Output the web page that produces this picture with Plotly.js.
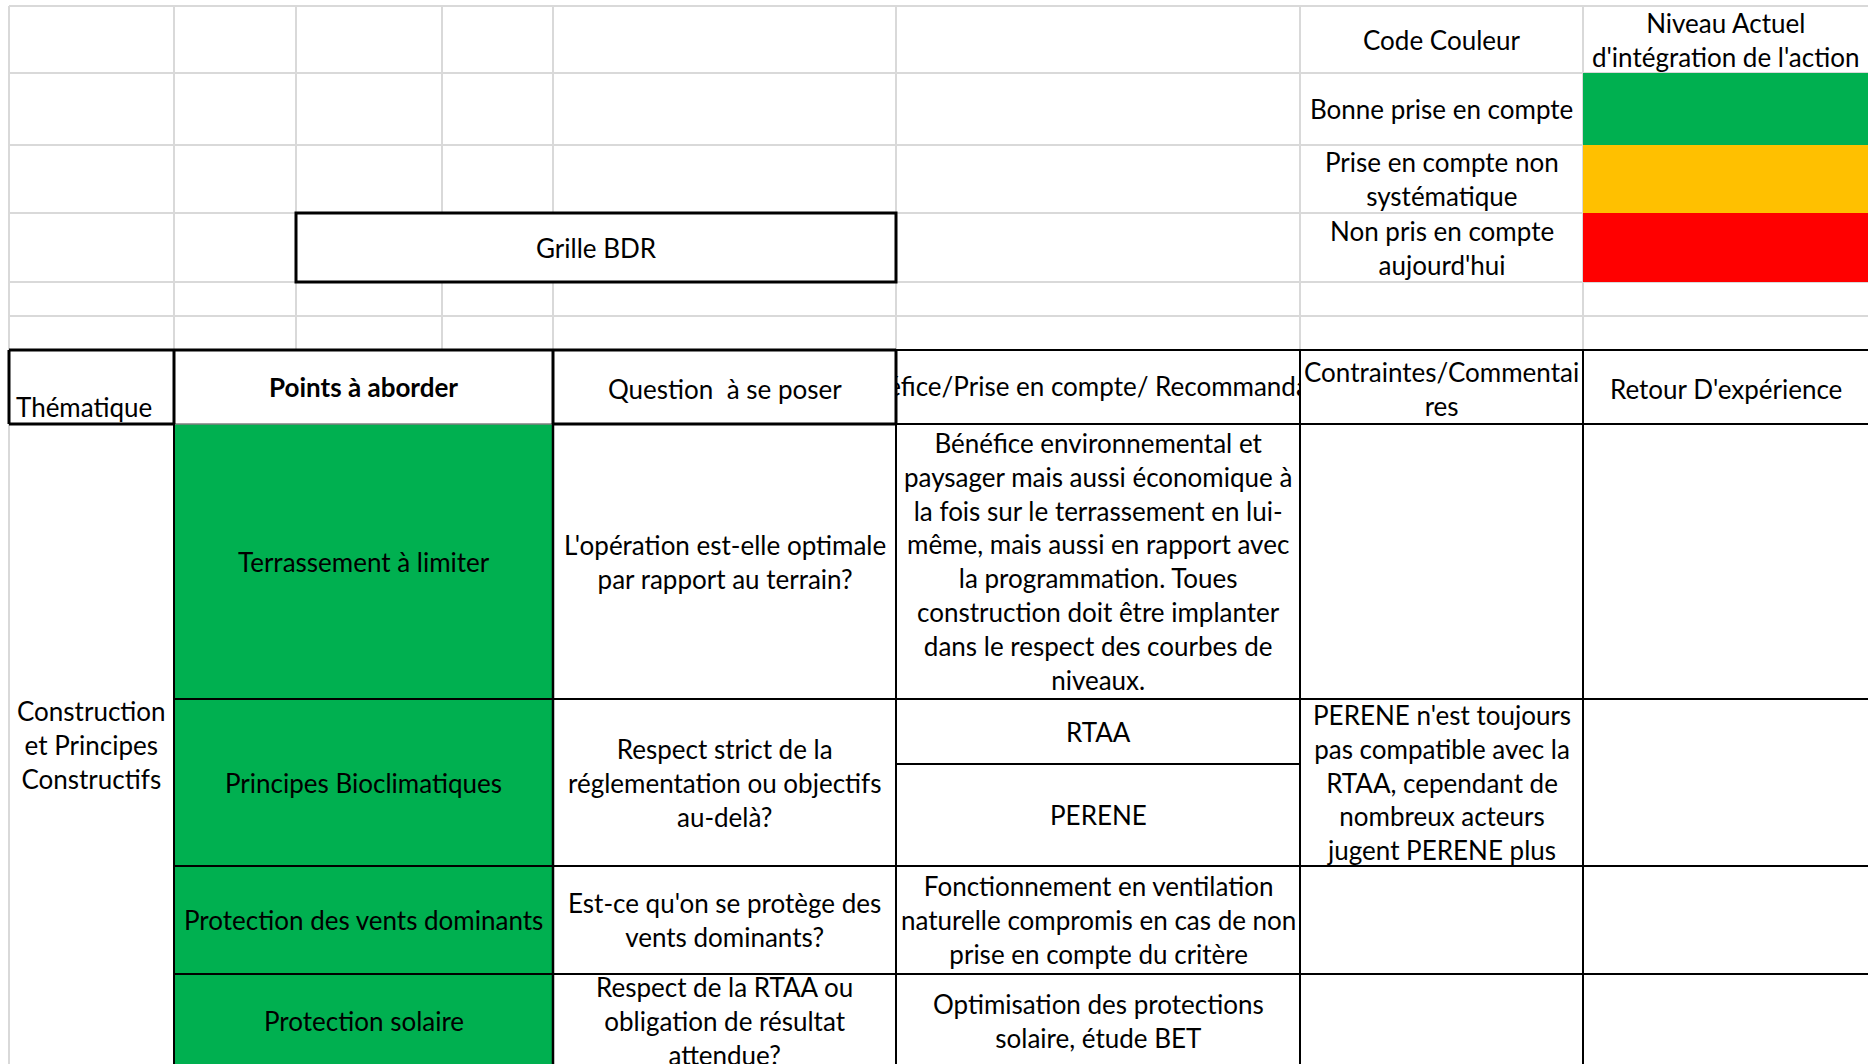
<!DOCTYPE html>
<html><head><meta charset="utf-8">
<script src="https://cdn.plot.ly/plotly-3.0.1.min.js"></script>
<style>html,body{margin:0;padding:0;background:#fff;overflow:hidden}#chart{width:1868px;height:1064px}</style>
</head><body><div id="chart"></div>
<script>
// ================= DATA =================
const sheetTitle = "Grille BDR";
const legendHeader = ["Code Couleur"];
const levelHeader = ["Niveau Actuel", "d'intégration de l'action"];
const levelLabels = [
  ["Bonne prise en compte"],
  ["Prise en compte non", "systématique"],
  ["Non pris en compte", "aujourd'hui"]
];
const columnHeaders = [
  ["Thématique"],
  ["Points à aborder"],
  ["Question  à se poser"],
  ["éfice/Prise en compte/ Recommanda"],
  ["Contraintes/Commentai", "res"],
  ["Retour D'expérience"]
];
const themes = [["Construction", "et Principes", "Constructifs"]];
const points = [
  "Terrassement à limiter",
  "Principes Bioclimatiques",
  "Protection des vents dominants",
  "Protection solaire"
];
const pointLevels = [0, 0, 0, 0];
const questions = [
  ["L'opération est-elle optimale", "par rapport au terrain?"],
  ["Respect strict de la", "réglementation ou objectifs", "au-delà?"],
  ["Est-ce qu'on se protège des", "vents dominants?"],
  ["Respect de la RTAA ou", "obligation de résultat", "attendue?"]
];
const benefits = [
  [["Bénéfice environnemental et", "paysager mais aussi économique à", "la fois sur le terrassement en lui-",
    "même, mais aussi en rapport avec", "la programmation. Toues", "construction doit être implanter",
    "dans le respect des courbes de", "niveaux."]],
  [["RTAA"], ["PERENE"]],
  [["Fonctionnement en ventilation", "naturelle compromis en cas de non", "prise en compte du critère"]],
  [["Optimisation des protections", "solaire, étude BET"]]
];
const constraints = [
  [],
  ["PERENE n'est toujours", "pas compatible avec la", "RTAA, cependant de", "nombreux acteurs", "jugent PERENE plus"],
  [],
  []
];
const feedback = [[], [], [], []];

// ================= LAYOUT / STYLE =================
const W = 1868, H = 1064;
const colX = [9, 174, 296, 442, 553, 896, 1300, 1583, 1868];
const gridY = [6, 73, 145, 213, 282, 316, 350];
const rowY = [350, 424, 699, 866, 974, 1068];
const subSplitY = 764;
const themeCenterY = 744.6;
const levelColors = ["#00B050", "#FFC000", "#FF0000"];
const GRID = "#D9D9D9", INK = "#000000";
const FONT = "Lato, 'Open Sans', sans-serif";
const FS = 26;

const shapes = [];
const annotations = [];
function line(x0, y0, x1, y1, color, width) {
  shapes.push({type: "line", xref: "x", yref: "y", x0, y0, x1, y1, line: {color, width}});
}
function rect(x0, y0, x1, y1, fill, border, bw) {
  shapes.push({type: "rect", xref: "x", yref: "y", x0, y0, x1, y1, fillcolor: fill,
    line: border ? {color: border, width: bw} : {width: 0}});
}
function text(lines, x, y, opts) {
  if (!lines || !lines.length) return;
  opts = opts || {};
  annotations.push(Object.assign({
    xref: "x", yref: "y", x, y, text: lines.join("<br>"), showarrow: false,
    xanchor: "center", yanchor: "middle", align: "center",
    font: {family: FONT, size: FS, color: INK}
  }, opts));
}
const cx = (a, b) => (colX[a] + colX[b]) / 2;

// gridlines (top, unbordered area)
for (let i = 0; i < colX.length - 1; i++) line(colX[i], gridY[0], colX[i], gridY[gridY.length - 1], GRID, 2);
line(colX[0], gridY[0], colX[0], H, GRID, 2);
for (const y of gridY) line(colX[0], y, W, y, GRID, 2);

// colour legend cells
levelLabels.forEach((lab, i) => {
  rect(colX[7], gridY[i + 1], colX[8] + 2, gridY[i + 2], levelColors[i]);
  text(lab, cx(6, 7), (gridY[i + 1] + gridY[i + 2]) / 2);
});
text(legendHeader, cx(6, 7), (gridY[0] + gridY[1]) / 2);
text(levelHeader, cx(7, 8), (gridY[0] + gridY[1]) / 2);

// title box
rect(colX[2], gridY[3], colX[5], gridY[4], "#FFFFFF", INK, 3);
text([sheetTitle], cx(2, 5), (gridY[3] + gridY[4]) / 2);

// green "points" column
points.forEach((p, i) => {
  rect(colX[1], rowY[i + 1], colX[4], rowY[i + 2], levelColors[pointLevels[i]]);
});

// header borders
line(colX[0], rowY[0], colX[5], rowY[0], INK, 3);
line(colX[5], rowY[0], W, rowY[0], INK, 2);
line(colX[0], rowY[1], colX[1], rowY[1], INK, 3);
line(colX[1], rowY[1], colX[4], rowY[1], "#7F7F7F", 1.5);
line(colX[4], rowY[1], colX[5], rowY[1], INK, 3);
line(colX[5], rowY[1], W, rowY[1], INK, 2);
[[0, 3], [1, 3], [4, 3], [5, 3], [6, 2], [7, 2]].forEach(([c, w]) => line(colX[c], rowY[0], colX[c], rowY[1], INK, w));

// body borders
[[1, 2], [4, 2.5], [5, 2], [6, 2], [7, 2]].forEach(([c, w]) => line(colX[c], rowY[1], colX[c], H + 5, INK, w));
for (let r = 2; r < rowY.length - 1; r++) line(colX[1], rowY[r], W, rowY[r], INK, 2);
line(colX[5], subSplitY, colX[6], subSplitY, INK, 2);

// header texts
text(columnHeaders[0], colX[0] + 5, rowY[1] - 17, {xanchor: "left"});
text(["<b>" + columnHeaders[1][0] + "</b>"], cx(1, 4), (rowY[0] + rowY[1]) / 2);
text(columnHeaders[2], cx(4, 5), (rowY[0] + rowY[1]) / 2 + 2);
text(columnHeaders[4], cx(6, 7), (rowY[0] + rowY[1]) / 2 + 2);
text(columnHeaders[5], cx(7, 8), (rowY[0] + rowY[1]) / 2 + 2);

// body texts
text(themes[0], cx(0, 1), themeCenterY);
points.forEach((p, i) => {
  const yc = (rowY[i + 1] + rowY[i + 2]) / 2;
  text([p], cx(1, 4), yc);
  text(questions[i], cx(4, 5), yc);
  const b = benefits[i];
  if (b.length === 1) text(b[0], cx(5, 6), yc);
  else {
    text(b[0], cx(5, 6), (rowY[i + 1] + subSplitY) / 2);
    text(b[1], cx(5, 6), (subSplitY + rowY[i + 2]) / 2);
  }
  text(constraints[i], cx(6, 7), yc);
  text(feedback[i], cx(7, 8), yc);
});

// overflowing header cell: its text is cut at the cell borders (clipped by a sub-plot of the cell's size)
const traces = [{
  type: "scatter", mode: "text", xaxis: "x2", yaxis: "y2",
  x: [cx(5, 6)], y: [(rowY[0] + rowY[1]) / 2 + 2],
  text: columnHeaders[3], textposition: "middle center",
  textfont: {family: FONT, size: FS, color: INK},
  cliponaxis: true, hoverinfo: "skip", showlegend: false
}];

const hidden = {visible: false, showgrid: false, zeroline: false, fixedrange: true};
const layout = {
  width: W, height: H, margin: {l: 0, r: 0, t: 0, b: 0, pad: 0},
  paper_bgcolor: "#FFFFFF", plot_bgcolor: "rgba(0,0,0,0)", showlegend: false,
  xaxis: Object.assign({range: [0, W], domain: [0, 1]}, hidden),
  yaxis: Object.assign({range: [H, 0], domain: [0, 1]}, hidden),
  xaxis2: Object.assign({range: [colX[5] + 1, colX[6]], domain: [(colX[5] + 1) / W, colX[6] / W], anchor: "y2"}, hidden),
  yaxis2: Object.assign({range: [rowY[1], rowY[0]], domain: [1 - rowY[1] / H, 1 - rowY[0] / H], anchor: "x2"}, hidden),
  shapes, annotations
};
Plotly.newPlot("chart", traces, layout, {displayModeBar: false, staticPlot: true});
</script>
</body></html>
